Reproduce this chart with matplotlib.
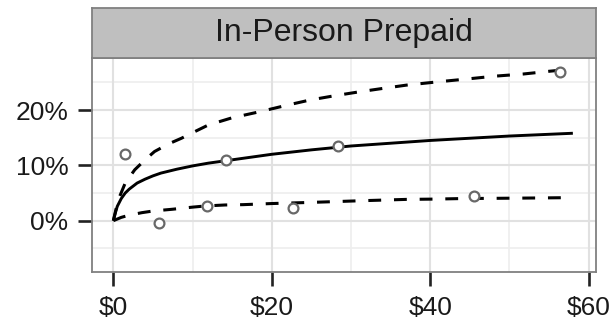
import matplotlib
matplotlib.use("Agg")
import matplotlib.pyplot as plt
from matplotlib.ticker import FuncFormatter

plt.rcParams['font.family'] = ['Liberation Sans', 'DejaVu Sans']

panel_title = "In-Person Prepaid"

# Observed points (amount in dollars, rate in percent)
obs_x = [1.45, 5.8, 11.8, 14.2, 22.7, 28.3, 45.5, 56.4]
obs_y = [12.1, -0.35, 2.7, 11.0, 2.25, 13.55, 4.45, 26.9]

# Fitted curve
fit_x = [0, 0.25, 0.5, 1, 1.5, 2, 3, 4, 5, 6, 8, 10, 12, 14, 17, 20, 25, 30, 35, 40, 45, 50, 58]
fit_y = [0, 1.4, 2.6, 4.0, 5.0, 5.7, 6.8, 7.5, 8.1, 8.6, 9.3, 9.9, 10.4, 10.8, 11.4, 12.0,
         12.8, 13.5, 14.0, 14.5, 14.9, 15.3, 15.8]

# Upper band
upper_x = [0, 0.6, 1.5, 2.7, 4, 5.2, 7, 8.6, 10, 12, 15, 18.5, 22, 24.8, 28, 31.1, 34, 37,
           41, 44.6, 48, 51.7, 55, 57.9]
upper_y = [0, 3.7, 6.8, 9.2, 11.0, 12.5, 13.9, 14.9, 15.9, 17.3, 18.6, 19.7, 20.9, 21.8,
           22.6, 23.3, 23.9, 24.5, 25.1, 25.6, 26.1, 26.5, 27.0, 27.4]

# Lower band
lower_x = [0, 1, 2, 3.6, 5, 7.4, 10, 11.6, 14.1, 16.4, 20, 24.8, 28, 31.1, 37, 40.4, 44,
           48.8, 53, 57.2]
lower_y = [0, 0.6, 1.0, 1.45, 1.75, 2.06, 2.45, 2.66, 2.84, 2.9, 3.1, 3.3, 3.45, 3.6, 3.85,
           3.9, 4.0, 4.05, 4.1, 4.16]

x_ticks = [0, 20, 40, 60]
y_ticks = [0, 10, 20]

fig = plt.figure(figsize=(6.13, 3.24), dpi=100)
fig.patch.set_facecolor('white')

ax = fig.add_axes([0.150, 0.160, 0.822, 0.661])
ax.set_facecolor('white')
ax.set_xlim(-2.7, 60.9)
ax.set_ylim(-9.3, 29.4)

# grid
for v in [10, 30, 50]:
    ax.axvline(v, color='#eeeeee', lw=1.2, zorder=0)
for v in [-5, 5, 15, 25]:
    ax.axhline(v, color='#eeeeee', lw=1.2, zorder=0)
for v in x_ticks:
    ax.axvline(v, color='#e1e1e1', lw=1.5, zorder=0)
for v in y_ticks:
    ax.axhline(v, color='#e1e1e1', lw=1.5, zorder=0)

dash = (0, (4.2, 4.2))
ax.plot(upper_x, upper_y, color='black', lw=2.2, linestyle=dash, zorder=3)
ax.plot(lower_x, lower_y, color='black', lw=2.2, linestyle=dash, zorder=3)
ax.plot(fit_x, fit_y, color='black', lw=2.1, zorder=3, solid_capstyle='butt')

ax.scatter(obs_x, obs_y, s=50, facecolors='white', edgecolors='#686868',
           linewidths=1.6, zorder=4)

ax.set_xticks(x_ticks)
ax.set_yticks(y_ticks)
ax.xaxis.set_major_formatter(FuncFormatter(lambda v, p: f"${v:.0f}"))
ax.yaxis.set_major_formatter(FuncFormatter(lambda v, p: f"{v:.0f}%"))
ax.tick_params(axis='both', length=10, width=1.9, color='#222222',
               labelsize=19, labelcolor='#1a1a1a', pad=7)

for s in ax.spines.values():
    s.set_color('#808080')
    s.set_linewidth(1.3)

# facet strip
strip = fig.add_axes([0.150, 0.821, 0.822, 0.154])
strip.set_facecolor('#bfbfbf')
strip.set_xticks([])
strip.set_yticks([])
for s in strip.spines.values():
    s.set_color('#808080')
    s.set_linewidth(1.3)
strip.text(0.5, 0.5, panel_title, ha='center', va='center', fontsize=23,
           color='#1a1a1a', transform=strip.transAxes)

fig.savefig('out.png', dpi=100, facecolor='white')
